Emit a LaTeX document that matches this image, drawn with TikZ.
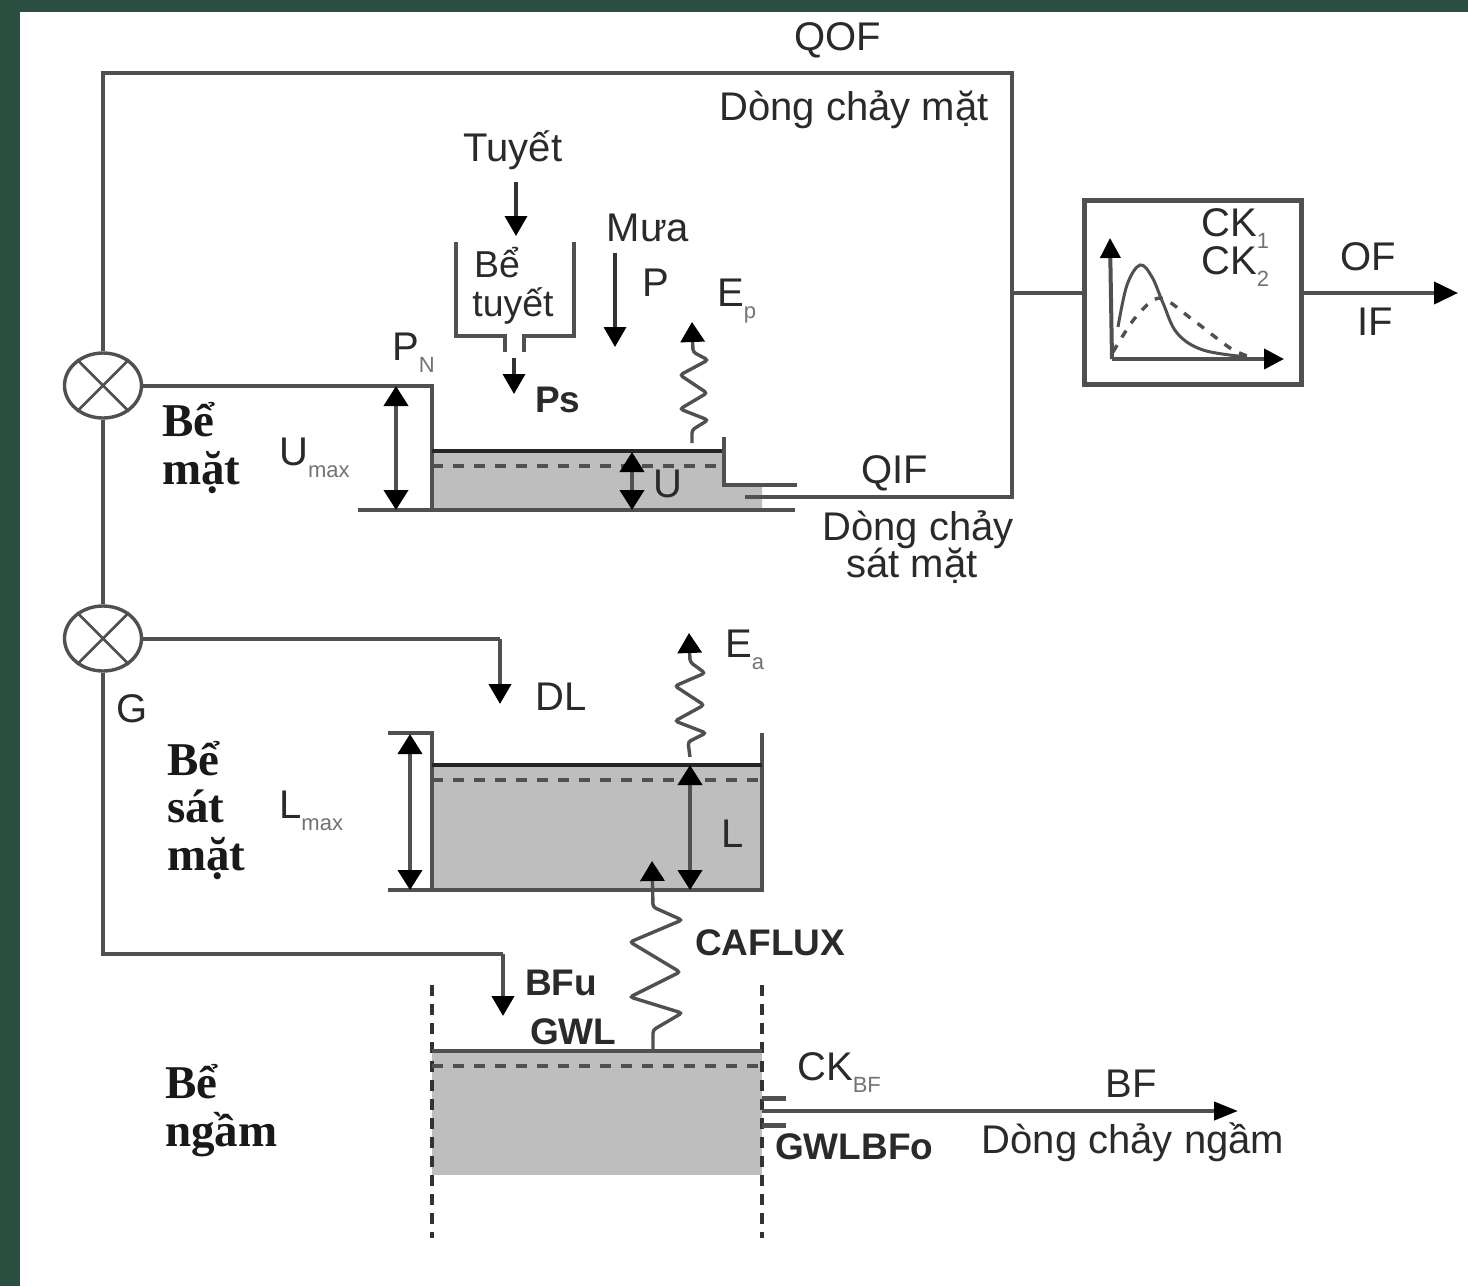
\documentclass[tikz,border=0pt]{standalone}
\usepackage{fontspec}
\setmainfont{Liberation Sans}
\newfontfamily\serifb{Liberation Serif}[BoldFont={Liberation Serif Bold}]
\usetikzlibrary{arrows.meta,shapes.geometric}
\definecolor{frameG}{HTML}{2B4F40}
\definecolor{lineC}{HTML}{505050}
\definecolor{txtC}{HTML}{2A2A2A}
\definecolor{waterC}{HTML}{BEBEBE}
\newcommand{\sbs}[1]{\raisebox{-0.3em}{\fontsize{22}{22}\selectfont\color{gray!90!black}#1}}
\tikzset{
  pipe/.style={draw=lineC,line width=4pt,line join=miter},
  thin pipe/.style={draw=lineC,line width=3.2pt},
  lip/.style={draw=lineC,line width=5pt},
  arr/.style={draw=black!80,line width=3.6pt,-{Triangle[length=20pt,width=22pt,color=black]}},
  darr/.style={draw=lineC,line width=4pt,{Triangle[length=20pt,width=24pt,color=black]}-{Triangle[length=20pt,width=24pt,color=black]}},
  wavy/.style={draw=lineC,line width=3.4pt,rounded corners=3pt,-{Triangle[length=20pt,width=24pt,color=black]}},
  lvl/.style={draw=black!85,line width=4pt},
  dlvl/.style={draw=lineC,line width=3.4pt,dash pattern=on 11pt off 10pt},
  dvert/.style={draw=black!80,line width=3.4pt,dash pattern=on 11pt off 8pt},
  water/.style={fill=waterC,draw=none},
  mixer/.style={shape=ellipse,draw=lineC,line width=3.4pt,minimum width=77pt,minimum height=65pt,inner sep=0pt,fill=white},
  cross/.style={draw=lineC,line width=2.8pt},
  ubox/.style={draw=lineC,line width=5pt,minimum width=217pt,minimum height=184pt,inner sep=0pt,fill=white},
  txt/.style={inner sep=0pt,anchor=base,text=txtC,font=\fontsize{40}{42}\selectfont},
  txtl/.style={txt,anchor=base west},
  snowt/.style={txt,font=\fontsize{37.5}{38}\selectfont},
  btxt/.style={txtl,font=\fontsize{37}{40}\selectfont\bfseries},
  stxt/.style={txtl,text=black!90,font=\fontsize{47}{50}\selectfont\serifb\bfseries},
}
\begin{document}
\begin{tikzpicture}[x=1pt,y=-1pt]
\useasboundingbox (0,0) rectangle (1468,1286);
\fill[frameG] (0,0) rectangle (1468,1286);
\fill[white] (20,12) rectangle (1468,1286);

% water bodies
\fill[water] (432,451) -- (724,451) -- (724,485) -- (762,485) -- (762,510) -- (432,510) -- cycle;
\fill[water] (432,765) rectangle (762,890);
\fill[water] (432,1052) rectangle (762,1175);

% mixers and routing box
\node[mixer] (mixA) at (103,385.5) {};
\node[mixer] (mixB) at (103,638.5) {};
\draw[cross] (mixA.45) -- (mixA.225) (mixA.135) -- (mixA.315);
\draw[cross] (mixB.45) -- (mixB.225) (mixB.135) -- (mixB.315);
\node[ubox] (uh) at (1192.5,292) {};

% overland path
\coordinate (topL) at (103,73);
\coordinate (topR) at (1012,73);
\coordinate (qifR) at (1012,497);
\coordinate (qifL) at (745,497);
\coordinate (junc) at (1012,293);
\coordinate (outOF) at (1458,293);
\draw[pipe] (mixA.north) -- (topL) -- (topR) -- (qifR) -- (qifL);
\draw[pipe] (junc) -- (junc -| uh.west);
\draw[pipe,-{Triangle[length=24pt,width=22pt,color=black]}] (uh.east |- outOF) -- (outOF);
\draw[pipe] (mixA.south) -- (mixB.north);

% surface store
\coordinate (pnEnd) at (432,510);
\coordinate (pnCorner) at (432,385.5);
\draw[pipe] (mixA.east) -- (pnCorner) -- (pnEnd);
\coordinate (baseL) at (358,510);
\coordinate (baseR) at (795,510);
\draw[pipe] (baseL) -- (baseR);
\coordinate (lvlAL) at (432,451);
\coordinate (lvlAR) at (724,451);
\coordinate (wallAT) at (724,437);
\coordinate (wallAB) at (724,485);
\coordinate (lipA) at (797,485);
\draw[lvl] (lvlAL) -- (lvlAR);
\draw[pipe] (wallAT) -- (wallAB) -- (lipA);
\coordinate (dAL) at (432,466);
\coordinate (dAR) at (724,466);
\draw[dlvl] (dAL) -- (dAR);
\coordinate (uT) at (632,452);
\coordinate (uB) at (632,510);
\draw[darr] (uT) -- (uB);
\coordinate (umT) at (396,386);
\coordinate (umB) at (396,510);
\draw[darr] (umT) -- (umB);

% snow store
\coordinate (s1) at (456,242);\coordinate (s2) at (456,336);\coordinate (s3) at (505,336);\coordinate (s4) at (505,352);
\coordinate (s5) at (574,242);\coordinate (s6) at (574,336);\coordinate (s7) at (524,336);\coordinate (s8) at (524,352);
\draw[thin pipe] (s1) -- (s2) -- (s3) -- (s4);
\draw[thin pipe] (s5) -- (s6) -- (s7) -- (s8);
\coordinate (tu1) at (516,182);\coordinate (tu2) at (516,236);
\draw[arr] (tu1) -- (tu2);
\coordinate (ps1) at (514,358);\coordinate (ps2) at (514,394);
\draw[arr] (ps1) -- (ps2);
\coordinate (ra1) at (615,253);\coordinate (ra2) at (615,347);
\draw[arr] (ra1) -- (ra2);

% evaporation
\draw[wavy] (692,443) -- (692,430) -- (708,420) -- (680,409) -- (707,393) -- (680,375) -- (708,360) -- (693,352) -- (692,322);

% subsurface store
\coordinate (dl1) at (500,638.5);
\coordinate (dl2) at (500,704);
\draw[pipe] (mixB.east) -- (dl1);
\draw[arr,draw=lineC,line width=4pt] (dl1) -- (dl2);
\coordinate (bW1T) at (432,733);\coordinate (bW1B) at (432,890);
\coordinate (bW2T) at (762,733);\coordinate (bW2B) at (762,890);
\coordinate (bTL) at (388,733);\coordinate (bBL) at (388,890);
\draw[pipe] (bTL) -- (bW1T) -- (bW1B);
\draw[pipe] (bBL) -- (bW1B) -- (bW2B) -- (bW2T);
\coordinate (lvlBL) at (432,765);\coordinate (lvlBR) at (762,765);
\draw[lvl] (lvlBL) -- (lvlBR);
\coordinate (dBL) at (432,780);\coordinate (dBR) at (762,780);
\draw[dlvl] (dBL) -- (dBR);
\coordinate (lmT) at (410,734);\coordinate (lmB) at (410,890);
\draw[darr] (lmT) -- (lmB);
\coordinate (lT) at (690,765);\coordinate (lB) at (690,890);
\draw[darr] (lT) -- (lB);
\draw[wavy] (690,757) -- (688,742) -- (706,733) -- (675,721) -- (704,705) -- (675,686) -- (705,673) -- (690,662) -- (689,633);

% capillary flux
\draw[wavy] (653,1050) -- (653,1030) -- (682,1013) -- (630,997) -- (680,972) -- (630,942) -- (682,920) -- (653,907) -- (652,861);

% ground store
\coordinate (bfL) at (103,954);
\coordinate (bfR) at (503,954);
\coordinate (bfE) at (503,1016);
\draw[pipe] (mixB.south) -- (bfL) -- (bfR);
\draw[arr,draw=lineC,line width=4pt] (bfR) -- (bfE);
\coordinate (cV1T) at (432,985);\coordinate (cV1B) at (432,1238);
\coordinate (cV2T) at (762,985);\coordinate (cV2B) at (762,1238);
\draw[dvert] (cV1T) -- (cV1B);
\draw[dvert] (cV2T) -- (cV2B);
\coordinate (lvlCL) at (432,1051);\coordinate (lvlCR) at (762,1051);
\draw[pipe] (lvlCL) -- (lvlCR);
\coordinate (dCL) at (432,1066);\coordinate (dCR) at (762,1066);
\draw[dlvl] (dCL) -- (dCR);
\coordinate (o1a) at (762,1098);\coordinate (o1b) at (786,1098);
\coordinate (o2a) at (762,1125);\coordinate (o2b) at (786,1125);
\draw[lip] (o1a) -- (o1b);
\draw[lip] (o2a) -- (o2b);
\coordinate (bfa) at (762,1111);\coordinate (bfb) at (1238,1111);
\draw[pipe,-{Triangle[length=24pt,width=18pt,color=black]}] (bfa) -- (bfb);

% unit hydrograph plot
\coordinate (ax0) at (1112,359);
\coordinate (axY) at (1110,238);
\coordinate (axX) at (1284,359);
\draw[pipe,-{Triangle[length=20pt,width=20pt,color=black]}] (ax0) -- (axY);
\draw[pipe,-{Triangle[length=20pt,width=20pt,color=black]}] (ax0) -- (axX);
\draw[draw=lineC,line width=3pt] plot[smooth,tension=0.6] coordinates {(1118,327) (1127,285) (1140,265) (1152,277) (1163,303) (1177,333) (1203,350) (1247,357)};
\draw[draw=lineC,line width=3.4pt,dash pattern=on 8pt off 9pt] plot[smooth,tension=0.5] coordinates {(1113,352) (1135,318) (1160,298) (1193,320) (1230,348) (1250,357)};

% labels
\node[txt] (tQOF) at (838,50) {QOF};
\node[txt] (tDcm) at (854,120) {Dòng chảy mặt};
\node[txt] (tTuyet) at (513,161) {Tuyết};
\node[snowt,anchor=base west] (tBe1) at (474,277) {Bể};
\node[snowt] (tTuyet2) at (513,316) {tuyết};
\node[txt] (tMua) at (648,241) {Mưa};
\node[txt] (tP) at (656,296) {P};
\node[txtl] (tEp) at (717,306) {E\sbs{p}};
\node[txtl] (tPN) at (392,360) {P\sbs{N}};
\node[btxt] (tPs) at (535,412) {Ps};
\node[txtl] (tUm) at (279,465) {U\sbs{max}};
\node[txtl] (tU) at (653,497) {U};
\node[txt] (tQIF) at (895,483) {QIF};
\node[txt] (tDcs1) at (918,540) {Dòng chảy};
\node[txt] (tDcs2) at (912,577) {sát mặt};
\node[txtl] (tCK1) at (1201,236) {CK\sbs{1}};
\node[txtl] (tCK2) at (1201,274) {CK\sbs{2}};
\node[txt] (tOF) at (1368,270) {OF};
\node[txt] (tIF) at (1375,335) {IF};
\node[txt] (tDL) at (561,710) {DL};
\node[txtl] (tEa) at (725,657) {E\sbs{a}};
\node[txt] (tG) at (132,722) {G};
\node[txtl] (tLm) at (279,818) {L\sbs{max}};
\node[txtl] (tL) at (721,847) {L};
\node[btxt] (tCA) at (695,955) {CAFLUX};
\node[btxt] (tBFu) at (525,995) {BFu};
\node[btxt] (tGWL) at (530,1044) {GWL};
\node[txtl] (tCKB) at (797,1080) {CK\sbs{BF}};
\node[txt] (tBF) at (1131,1097) {BF};
\node[btxt] (tGWLB) at (775,1159) {GWLBFo};
\node[txt] (tDcn) at (1133,1153) {Dòng chảy ngầm};
\node[stxt] (sA1) at (162,436) {Bể};
\node[stxt] (sA2) at (162,484) {mặt};
\node[stxt] (sB1) at (167,775) {Bể};
\node[stxt] (sB2) at (167,822) {sát};
\node[stxt] (sB3) at (167,870) {mặt};
\node[stxt] (sC1) at (165,1098) {Bể};
\node[stxt] (sC2) at (165,1146) {ngầm};
\end{tikzpicture}
\end{document}
